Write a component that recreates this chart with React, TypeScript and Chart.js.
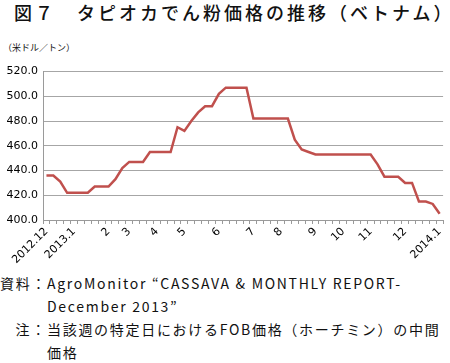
import React, { useEffect, useRef } from 'react';
import { Chart, registerables } from 'chart.js';

Chart.register(...registerables);

// Weekly categories (Dec 2012 – Jan 2014); month labels on the first week of each month
const categories: string[] = [
  '2012.12', '', '', '', '2013.1', '', '', '', '', '2',
  '', '', '3', '', '', '', '4', '', '', '',
  '5', '', '', '', '', '6', '', '', '', '',
  '7', '', '', '', '8', '', '', '', '', '9',
  '', '', '', '10', '', '', '', '11', '', '',
  '', '', '12', '', '', '', '', '2014.1',
];

// Tapioca starch price, USD/ton
const prices: number[] = [
  436, 436, 431, 422, 422, 422, 422, 427, 427, 427,
  433, 442, 447, 447, 447, 455, 455, 455, 455, 475,
  472, 480, 487, 492, 492, 502, 507, 507, 507, 507,
  482, 482, 482, 482, 482, 482, 465, 457, 455, 453,
  453, 453, 453, 453, 453, 453, 453, 453, 445, 435,
  435, 435, 430, 430, 415, 415, 413, 405,
];

const yMin = 400;
const yMax = 520;
const yStep = 20;

const title = '図７　タピオカでん粉価格の推移（ベトナム）';
const unitLabel = '（米ドル／トン）';

const tickFont = { family: '"DejaVu Sans", sans-serif', size: 11 };

export default function App() {
  const ref = useRef<HTMLCanvasElement | null>(null);

  useEffect(() => {
    if (!ref.current) return;
    const chart = new Chart(ref.current, {
      type: 'line',
      data: {
        labels: categories,
        datasets: [
          {
            data: prices,
            borderColor: '#c0504d',
            backgroundColor: '#c0504d',
            borderWidth: 2.5,
            pointRadius: 0,
            tension: 0,
            fill: false,
          },
        ],
      },
      options: {
        animation: false,
        responsive: false,
        maintainAspectRatio: false,
        layout: { padding: { top: 9, right: 4, left: 0, bottom: 0 } },
        plugins: {
          legend: { display: false },
          tooltip: { enabled: false },
        },
        scales: {
          x: {
            type: 'category',
            offset: true,
            grid: {
              offset: true,
              drawOnChartArea: false,
              drawTicks: true,
              tickLength: 4,
              color: '#9a9a9a',
            },
            border: { display: true, color: '#9a9a9a' },
            ticks: {
              autoSkip: false,
              maxRotation: 45,
              minRotation: 45,
              padding: 1,
              color: '#000',
              font: tickFont,
            },
            afterFit: (s: any) => {
              s.height = 45;
            },
          },
          y: {
            min: yMin,
            max: yMax,
            grid: {
              color: '#a6a6a6',
              drawTicks: false,
            },
            border: { display: true, color: '#9a9a9a' },
            ticks: {
              stepSize: yStep,
              padding: 5,
              color: '#000',
              font: tickFont,
              callback: (v: any) => Number(v).toFixed(1),
            },
            afterFit: (s: any) => {
              s.width = 43;
            },
          },
        },
      },
    });
    return () => chart.destroy();
  }, []);

  const footRow: React.CSSProperties = { display: 'flex' };
  const footLabel: React.CSSProperties = { width: 47, textAlign: 'right', flex: 'none', whiteSpace: 'nowrap' };
  const footText: React.CSSProperties = { whiteSpace: 'nowrap' };

  return (
    <div
      style={{
        position: 'absolute',
        left: 0,
        top: 0,
        width: 450,
        height: 363,
        background: '#fff',
        overflow: 'hidden',
        fontFamily: '"Noto Sans CJK JP", sans-serif',
        color: '#111',
      }}
    >
      <div
        style={{
          position: 'absolute',
          left: 14,
          top: 2,
          fontSize: 18,
          lineHeight: '20px',
          letterSpacing: 3,
          fontWeight: 500,
          whiteSpace: 'nowrap',
        }}
      >
        {title}
      </div>
      <div
        style={{
          position: 'absolute',
          left: 3,
          top: 42,
          fontSize: 9,
          lineHeight: '12px',
          whiteSpace: 'nowrap',
        }}
      >
        {unitLabel}
      </div>
      <canvas
        ref={ref}
        width={450}
        height={205}
        style={{ position: 'absolute', left: 0, top: 60, width: 450, height: 205 }}
      />
      <div
        style={{
          position: 'absolute',
          left: 0,
          top: 272,
          fontSize: 14,
          lineHeight: '23px',
          letterSpacing: 1.7,
        }}
      >
        <div style={footRow}>
          <span style={footLabel}>資料：</span>
          <span style={footText}>AgroMonitor “CASSAVA &amp; MONTHLY REPORT-</span>
        </div>
        <div style={footRow}>
          <span style={footLabel}></span>
          <span style={footText}>December 2013”</span>
        </div>
        <div style={footRow}>
          <span style={footLabel}>注：</span>
          <span style={footText}>当該週の特定日におけるFOB価格（ホーチミン）の中間</span>
        </div>
        <div style={footRow}>
          <span style={footLabel}></span>
          <span style={footText}>価格</span>
        </div>
      </div>
    </div>
  );
}
